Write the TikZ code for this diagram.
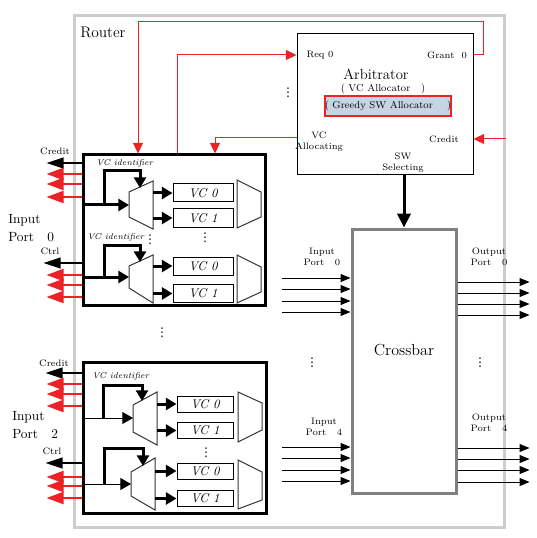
\documentclass[tikz,border=0pt]{standalone}
\usepackage{fontspec}
\newfontfamily\symfont{DejaVu Sans}
\usetikzlibrary{arrows.meta}
\definecolor{routergray}{RGB}{205,205,205}
\definecolor{xbargray}{RGB}{128,128,128}
\definecolor{linkred}{RGB}{236,34,39}
\definecolor{allocblue}{RGB}{199,212,226}
\tikzset{
  portbox/.style={draw, line width=2.25pt, inner sep=0pt},
  vcbox/.style={draw, line width=0.75pt, fill=white, inner sep=0pt, minimum width=45pt, minimum height=13.5pt, font=\fontsize{9.5}{10}\selectfont\itshape},
  tinytext/.style={font=\fontsize{7}{8.5}\selectfont, align=center, inner sep=0pt},
  vcid/.style={font=\fontsize{6.3}{7}\selectfont\itshape, anchor=west, inner sep=0pt},
  portname/.style={font=\fontsize{10}{13.5}\selectfont, anchor=west, align=left, inner sep=0pt},
  dots/.style={inner sep=0pt, font=\symfont\fontsize{9}{9}\selectfont},
  muxline/.style={draw=black!80, line width=0.75pt, fill=white},
  fatarrow/.style={line width=2.25pt, -{Triangle[length=8pt,width=9pt]}},
  thinarrow/.style={line width=0.75pt, -{Triangle[length=8pt,width=9pt]}},
  backarrow/.style={line width=1.5pt, -{Triangle[length=12.75pt,width=8pt]}},
  redback/.style={linkred, line width=1.5pt, -{Triangle[length=12.75pt,width=9pt]}},
  redlink/.style={linkred, line width=0.75pt, -{Triangle[length=8pt,width=7.5pt]}},
  xbararrow/.style={line width=0.75pt, -{Triangle[length=7.5pt,width=6pt]}},
}
\begin{document}
\begin{tikzpicture}[x=0.75pt,y=-0.75pt]
\useasboundingbox (0,0) rectangle (536,538);

% router frame
\node (router) [draw=routergray, line width=2.25pt, minimum width=322.5pt, minimum height=383.25pt] at (289,271.5) {};
\node (routerlbl) [anchor=west, inner sep=0pt, font=\fontsize{11.5}{13}\selectfont] at (80,32) {Router};

% arbitrator
\node (arb) [draw, line width=0.75pt, minimum width=132pt, minimum height=105.75pt] at (385,104.5) {};
\node (req0) [tinytext] at (320,55) {Req 0};
\node (grant0) [tinytext] at (447,55) {Grant~~0};
\node (arbname) [inner sep=0pt, font=\fontsize{11}{12}\selectfont] at (376,74) {Arbitrator};
\node (vcalloc) [inner sep=0pt, font=\fontsize{7.5}{8}\selectfont] at (383,89) {(~VC Allocator~~~)};
\node (swalloc) [draw=linkred, line width=1.5pt, fill=allocblue, minimum width=91.5pt, minimum height=15pt, inner sep=0pt, font=\fontsize{7.5}{8}\selectfont] at (388,106) {(~Greedy SW Allocator~~~~)};
\node (vcalloci) [tinytext] at (319,142) {VC\\Allocating};
\node (arbcredit) [tinytext] at (444,139) {Credit};
\node (swsel) [tinytext] at (403,163) {SW\\Selecting};
\node (arbdots) [dots] at (288,93) {⋮};

% crossbar
\node (xbar) [draw=xbargray, line width=2.25pt, minimum width=78pt, minimum height=198pt] at (404,361) {};
\node (xbarname) [inner sep=0pt, font=\fontsize{12}{13}\selectfont] at (404,350) {Crossbar};
\draw[line width=2.25pt, -{Triangle[length=10.5pt,width=10pt]}] (arb.south -| 404,0) -- (xbar.north -| 404,0);

\node (xin0) [tinytext] at (322,257) {Input\\Port~~~0};
\node (xout0) [tinytext] at (489,257) {Output\\Port~~~0};
\node (xin4) [tinytext] at (324,427) {Input\\Port~~~4};
\node (xout4) [tinytext] at (489,423) {Output\\Port~~~4};
\node (xdotsl) [dots] at (312,363) {⋮};
\node (xdotsr) [dots] at (480,363) {⋮};

\draw[xbararrow] (282,278) -- (xbar.west |- 282,278);
\draw[xbararrow] (282,289) -- (xbar.west |- 282,289);
\draw[xbararrow] (282,301) -- (xbar.west |- 282,301);
\draw[xbararrow] (282,312) -- (xbar.west |- 282,312);
\draw[xbararrow] (282,447) -- (xbar.west |- 282,447);
\draw[xbararrow] (282,458) -- (xbar.west |- 282,458);
\draw[xbararrow] (282,470) -- (xbar.west |- 282,470);
\draw[xbararrow] (282,481) -- (xbar.west |- 282,481);
\draw[xbararrow] (xbar.east |- 0,282) -- ++(72,0);
\draw[xbararrow] (xbar.east |- 0,293) -- ++(72,0);
\draw[xbararrow] (xbar.east |- 0,304) -- ++(72,0);
\draw[xbararrow] (xbar.east |- 0,315) -- ++(72,0);
\draw[xbararrow] (xbar.east |- 0,448) -- ++(72,0);
\draw[xbararrow] (xbar.east |- 0,459) -- ++(72,0);
\draw[xbararrow] (xbar.east |- 0,470) -- ++(72,0);
\draw[xbararrow] (xbar.east |- 0,482) -- ++(72,0);

% input port 0
\node (port0) [portbox, minimum width=136.5pt, minimum height=112.5pt] at (174,230) {};
\node (port0name) [portname] at (8,228) {Input\\Port~~~0};
\node (p0credit) [tinytext] at (55,151) {Credit};
\node (p0ctrl) [tinytext] at (50,251) {Ctrl};
\draw[backarrow] (port0.west |- 0,163) -- ++(-35,0);
\draw[redback] (port0.west |- 0,174) -- ++(-35,0);
\draw[redback] (port0.west |- 0,184) -- ++(-35,0);
\draw[redback] (port0.west |- 0,197) -- ++(-35,0);
\draw[backarrow] (port0.west |- 0,263) -- ++(-38,0);
\draw[redback] (port0.west |- 0,275) -- ++(-35,0);
\draw[redback] (port0.west |- 0,285) -- ++(-35,0);
\draw[redback] (port0.west |- 0,297) -- ++(-35,0);

\node (p0ida) [vcid] at (96,163) {VC identifier};
\node (p0idb) [vcid] at (87,237) {VC identifier};
\node (p0vc0a) [vcbox] at (203,193) {VC 0};
\node (p0vc1a) [vcbox] at (203,218) {VC 1};
\node (p0vc0b) [vcbox] at (203,266) {VC 0};
\node (p0vc1b) [vcbox] at (203,293.5) {VC 1};
\node (p0dotsa) [dots] at (205,238) {⋮};
\node (p0dotsb) [dots] at (150,240) {⋮};
\draw[muxline] (129,192) -- (153,181) -- (153,229) -- (129,217) -- cycle;
\draw[muxline] (237,180) -- (261,192) -- (261,217) -- (237,228) -- cycle;
\draw[muxline] (129,266) -- (153,255) -- (153,303) -- (129,288) -- cycle;
\draw[muxline] (237,255) -- (261,267) -- (261,292) -- (237,303) -- cycle;
\coordinate (p0ina) at (129,205);
\coordinate (p0inb) at (129,277);
\coordinate (p0outa) at (153,205);
\coordinate (p0outb) at (153,277);
\draw[fatarrow] (port0.west |- p0ina) -- (p0ina);
\draw[fatarrow] (port0.west |- p0inb) -- (p0inb);
\draw[fatarrow] (104,205) |- (140,171) -- (140,188);
\draw[fatarrow] (104,277) |- (140,245) -- (140,262);
\draw[fatarrow] (p0outa |- p0vc0a) -- (p0vc0a.west);
\draw[fatarrow] (p0outa |- p0vc1a) -- (p0vc1a.west);
\draw[fatarrow] (p0outb |- p0vc0b) -- (p0vc0b.west);
\draw[fatarrow] (p0outb |- p0vc1b) -- (p0vc1b.west);

% red request / grant links
\draw[redlink] (grant0 -| arb.east) -- ++(10,0) |- (138,22) -- (port0.north -| 138,0);
\draw[redlink] (port0.north -| 177,0) |- (req0 -| arb.west);
\draw[redlink] (arb.west |- 0,138) -| (port0.north -| 215,0);
\draw[redlink] (router.east |- arbcredit) -- (arb.east |- arbcredit);

\node (portdots) [dots] at (162,333) {⋮};

% input port 2
\node (port2) [portbox, minimum width=137.25pt, minimum height=113.25pt] at (174.5,437.5) {};
\node (port2name) [portname] at (12,425.5) {Input\\Port~~~2};
\node (p2credit) [tinytext] at (54,363) {Credit};
\node (p2ctrl) [tinytext] at (52,451) {Ctrl};
\draw[backarrow] (port2.west |- 0,373) -- ++(-36,0);
\draw[redback] (port2.west |- 0,384) -- ++(-35,0);
\draw[redback] (port2.west |- 0,394) -- ++(-35,0);
\draw[redback] (port2.west |- 0,406) -- ++(-35,0);
\draw[backarrow] (port2.west |- 0,463) -- ++(-36,0);
\draw[redback] (port2.west |- 0,477) -- ++(-35,0);
\draw[redback] (port2.west |- 0,486) -- ++(-35,0);
\draw[redback] (port2.west |- 0,498) -- ++(-35,0);

\node (p2id) [vcid] at (92,376) {VC identifier};
\node (p2vc0a) [vcbox, minimum width=42pt, minimum height=12pt] at (205,404) {VC 0};
\node (p2vc1a) [vcbox, minimum width=42pt, minimum height=12pt] at (205,430.5) {VC 1};
\node (p2vc0b) [vcbox, minimum width=42pt, minimum height=12pt] at (205,471) {VC 0};
\node (p2vc1b) [vcbox, minimum width=42pt, minimum height=12pt] at (205,498.5) {VC 1};
\node (p2dots) [dots] at (206,453) {⋮};
\draw[muxline] (133,405) -- (157,392) -- (157,445) -- (133,432) -- cycle;
\draw[muxline] (238,392) -- (262,403) -- (262,430) -- (238,442) -- cycle;
\draw[muxline] (131,472) -- (155,458) -- (155,510) -- (131,496) -- cycle;
\draw[muxline] (238,460) -- (262,472) -- (262,500) -- (238,509) -- cycle;
\coordinate (p2ina) at (133,418);
\coordinate (p2inb) at (131,484);
\coordinate (p2outa) at (157,418);
\coordinate (p2outb) at (155,484);
\draw[thinarrow] (port2.west |- p2ina) -- (p2ina);
\draw[thinarrow] (port2.west |- p2inb) -- (p2inb);
\draw[fatarrow] (103,418) |- (142,385) -- (142,401);
\draw[fatarrow] (104,484) |- (143,448) -- (143,466);
\draw[fatarrow] (p2outa |- p2vc0a) -- (p2vc0a.west);
\draw[fatarrow] (p2outa |- p2vc1a) -- (p2vc1a.west);
\draw[fatarrow] (p2outb |- p2vc0b) -- (p2vc0b.west);
\draw[fatarrow] (p2outb |- p2vc1b) -- (p2vc1b.west);
\end{tikzpicture}
\end{document}
